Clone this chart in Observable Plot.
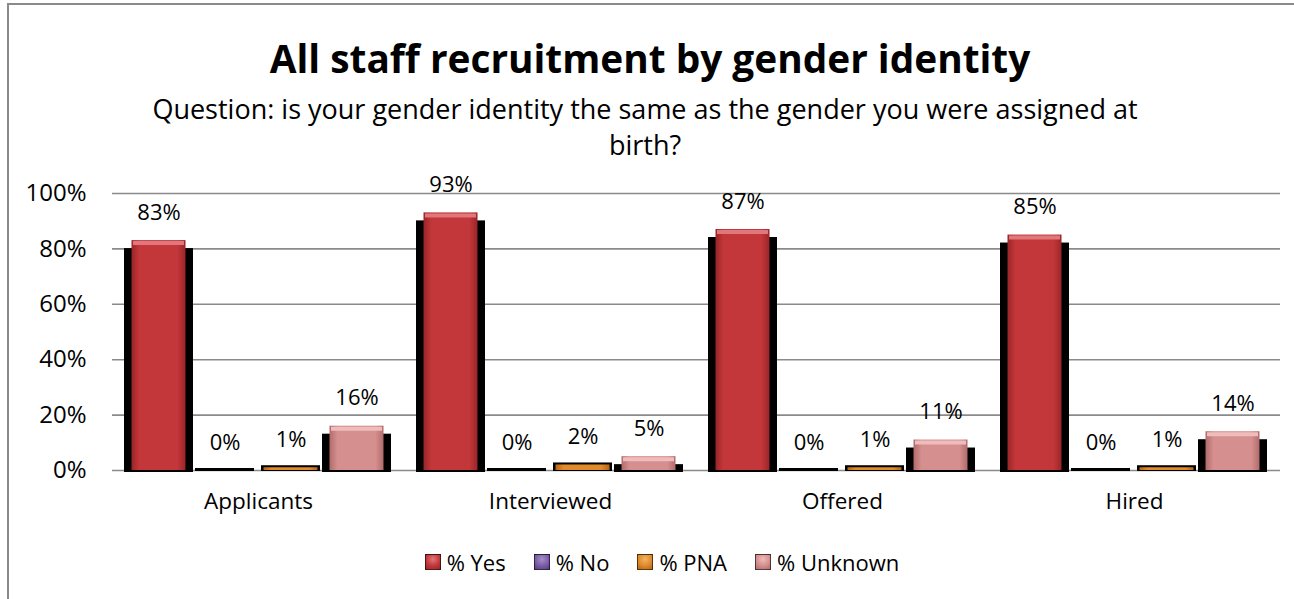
<!DOCTYPE html>
<html>
<head>
<meta charset="utf-8">
<script src="https://cdn.jsdelivr.net/npm/d3@7"></script>
<script src="https://cdn.jsdelivr.net/npm/@observablehq/plot@0.6"></script>
<style>
  html, body { margin: 0; padding: 0; background: #fff; }
  #wrap { position: relative; width: 1294px; height: 599px; overflow: hidden; font-family: "Open Sans", Lato, sans-serif; color: #000; }
  #frame { position: absolute; left: 7px; top: 3px; width: 1300px; height: 610px; border-left: 2px solid #8a8a8a; border-top: 2px solid #8a8a8a; }
  #title { position: absolute; left: 0; width: 1300px; top: 33px; text-align: center; font-weight: 700; font-size: 38.8px; line-height: 50px; white-space: nowrap; }
  #subtitle { position: absolute; left: 0; width: 1290px; top: 91px; text-align: center; font-size: 27px; line-height: 36px; white-space: nowrap; }
  #chart { position: absolute; left: 0; top: 150px; }
  #legend { position: absolute; left: 0; width: 1324px; top: 547px; display: flex; justify-content: center; font-size: 22px; line-height: 30px; }
  .item { display: flex; align-items: center; margin: 0 14px; }
  .sw { width: 16px; height: 16px; margin-right: 6px; border: 1px solid rgba(0,0,0,0.6); box-sizing: border-box; }
</style>
</head>
<body>
<div id="wrap">
  <div id="frame"></div>
  <div id="title">All staff recruitment by gender identity</div>
  <div id="subtitle">Question: is your gender identity the same as the gender you were assigned at<br>birth?</div>
  <div id="chart"></div>
  <div id="legend"></div>
</div>
<script>
const categories = ["Applicants", "Interviewed", "Offered", "Hired"];
const series = ["% Yes", "% No", "% PNA", "% Unknown"];
const yesValues = [83, 93, 87, 85];
const noValues = [0, 0, 0, 0];
const pnaValues = [1, 2, 1, 1];
const unknownValues = [16, 5, 11, 14];
const yTicks = [0, 20, 40, 60, 80, 100];
const colors = ["#c3373a", "#7a5ea6", "#e08a2a", "#d58f8e"];
const lightColors = ["#e0777a", "#a58fca", "#f2b265", "#eebcbb"];
const darkColors = ["#992528", "#573f80", "#b56515", "#b06c6b"];

const valueSets = [yesValues, noValues, pnaValues, unknownValues];
const data = categories.flatMap((c, i) =>
  series.map((s, j) => ({cat: c, series: s, value: valueSets[j][i]}))
);
const big = data.filter(d => d.value >= 5);
const small = data.filter(d => d.value < 5);

const plot = Plot.plot({
  width: 1294,
  height: 370,
  marginLeft: 110,
  marginRight: 13,
  marginTop: 43,
  marginBottom: 50,
  style: {fontFamily: "'Open Sans', Lato, sans-serif", fontSize: "22px", color: "#000", background: "transparent"},
  fx: {domain: categories, padding: 0, label: null},
  x: {domain: series, axis: null, paddingInner: 0.1, paddingOuter: 0.233},
  y: {domain: [0, 100], label: null},
  color: {domain: series, range: colors},
  marks: [
    Plot.ruleY(yTicks, {stroke: "#8a8a8a", strokeWidth: 1.6}),
    Plot.axisY({ticks: yTicks, tickFormat: d => d + "%", tickSize: 0, tickPadding: 26, label: null, fontSize: 24}),
    Plot.axisFx({anchor: "bottom", tickSize: 0, tickPadding: 23, label: null, fontSize: 22.5}),
    // dark drop-shadow behind each bar
    Plot.barY(big, {fx: "cat", x: "series", y: "value", fill: "#000", insetLeft: -5, insetRight: -5, insetTop: 8, insetBottom: -2}),
    Plot.rectY(small, {fx: "cat", x: "series", y1: 0, y2: "value", fill: "#000", insetLeft: 0, insetRight: 0, insetTop: -2, insetBottom: -1}),
    // main bars
    Plot.barY(data, {fx: "cat", x: "series", y: "value", fill: "series", insetLeft: 2.5, insetRight: 2.5}),
    // top bevel highlight
    Plot.tickY(big, {fx: "cat", x: "series", y: "value", stroke: d => lightColors[series.indexOf(d.series)], strokeWidth: 4, dy: 2.5, insetLeft: 4, insetRight: 4}),
    // value labels
    Plot.text(data, {fx: "cat", x: "series", y: "value", text: d => d.value + "%", dy: -28, fontSize: 22, fill: "#000"})
  ]
});
document.getElementById("chart").appendChild(plot);

// horizontal shading on bars
const svg = d3.select(plot);
const defs = svg.insert("defs", ":first-child");
colors.forEach((c, j) => {
  const g = defs.append("linearGradient").attr("id", "g" + j).attr("x1", 0).attr("x2", 1).attr("y1", 0).attr("y2", 0);
  g.append("stop").attr("offset", "0%").attr("stop-color", darkColors[j]);
  g.append("stop").attr("offset", "15%").attr("stop-color", c);
  g.append("stop").attr("offset", "50%").attr("stop-color", c);
  g.append("stop").attr("offset", "85%").attr("stop-color", c);
  g.append("stop").attr("offset", "100%").attr("stop-color", darkColors[j]);
});
svg.selectAll("rect").each(function() {
  const f = (this.getAttribute("fill") || "").toLowerCase();
  const j = colors.indexOf(f);
  if (j >= 0) this.setAttribute("fill", "url(#g" + j + ")");
});

// legend
const legend = document.getElementById("legend");
series.forEach((s, j) => {
  const item = document.createElement("div");
  item.className = "item";
  const sw = document.createElement("div");
  sw.className = "sw";
  sw.style.background = `radial-gradient(circle at 50% 30%, ${lightColors[j]} 0%, ${colors[j]} 55%, ${darkColors[j]} 100%)`;
  const t = document.createElement("span");
  t.textContent = s;
  item.appendChild(sw);
  item.appendChild(t);
  legend.appendChild(item);
});
</script>
</body>
</html>
